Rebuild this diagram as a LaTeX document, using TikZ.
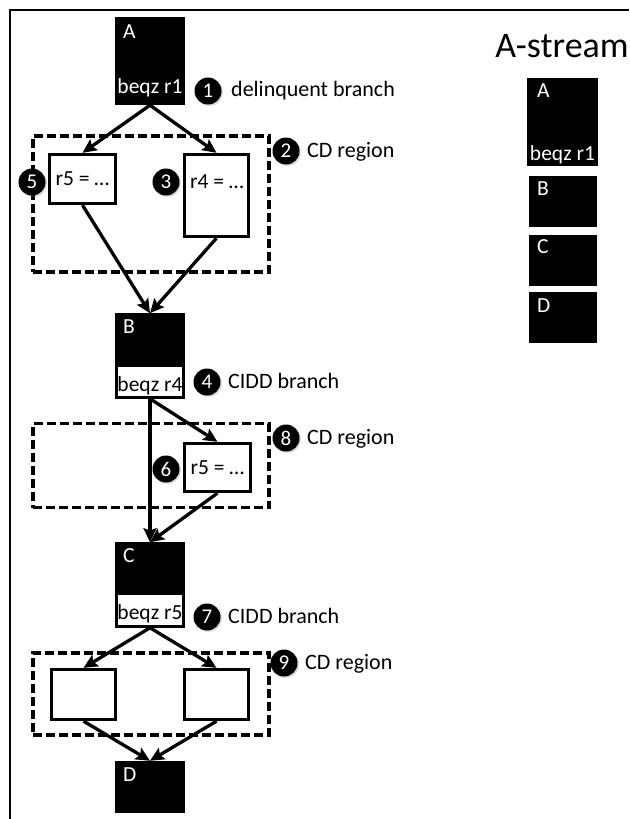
\documentclass[tikz,border=0pt]{standalone}
\usepackage{fontspec}
\setmainfont{Carlito}
\usetikzlibrary{arrows.meta,shadows}
\begin{document}
\begin{tikzpicture}[x=1pt,y=-1pt,
  txt/.style={font=\fontsize{21.5}{23}\selectfont, inner sep=0pt},
  lbl/.style={font=\fontsize{22}{24}\selectfont, inner sep=0pt, anchor=base west},
  blk/.style={rectangle, fill=black, draw=none, inner sep=0pt},
  wbox/.style={rectangle, draw=black, line width=3.3pt, fill=white, inner sep=0pt},
  split/.style={wbox, line width=2.6pt, path picture={\fill[black] (path picture bounding box.north west) rectangle ([yshift=-#1]path picture bounding box.north east);}},
  badge/.style={circle, fill=black, text=white, minimum size=27pt, inner sep=0pt,
    font=\fontsize{21}{23}\selectfont, circular drop shadow={shadow xshift=1pt, shadow yshift=-1pt, opacity=0.35, shadow scale=1.06}},
  region/.style={rectangle, draw=black, line width=3.3pt, dash pattern=on 9pt off 4pt, inner sep=0pt},
  arr/.style={line width=3.3pt, -{Stealth[length=14pt,width=13pt,inset=2.5pt]}},
  wt/.style={txt, text=white}
]
\useasboundingbox (0,0) rectangle (629,819);
% frame
\draw[line width=2.8pt] (629,10) -- (10,10) -- (10,819);

% regions (behind)
\node[region, minimum width=236pt, minimum height=136pt] (reg1) at (151,204) {};
\node[region, minimum width=236pt, minimum height=84pt] (reg2) at (151,465.5) {};
\node[region, minimum width=236pt, minimum height=82pt] (reg3) at (151,694) {};

% block A
\node[blk, minimum width=70pt, minimum height=88pt] (A) at (150,61) {};
\node[wt, anchor=base west] (Al) at (123,38) {A};
\node[wt, anchor=base] (Ab) at (150,93) {beqz r1};
\node[badge] (n1) at (208,91) {1};
\node[lbl] (t1) at (231,96) {delinquent branch};

% CD region 1
\node[wbox, minimum width=66pt, minimum height=49pt, txt] (r5) at (82.5,179) {r5 = …};
\node[wbox, minimum width=64pt, minimum height=82pt] (r4) at (216.5,195.5) {};
\node[txt, anchor=base] (r4t) at (217,188) {r4 = …};
\node[badge] (n5) at (32,182) {5};
\node[badge] (n3) at (166,182) {3};
\node[badge] (n2) at (286,151) {2};
\node[lbl] (t2) at (307,157) {CD region};

% block B
\node[split=52pt, minimum width=67pt, minimum height=83pt] (B) at (150,356) {};
\node[wt, anchor=base west] (Bl) at (123,333) {B};
\node[txt, anchor=base] (Bb) at (150,391) {beqz r4};
\node[badge] (n4) at (207,382) {4};
\node[lbl] (t4) at (228,388) {CIDD branch};

% CD region 2
\node[wbox, minimum width=66pt, minimum height=48pt, txt] (r5b) at (217.5,467.5) {r5 = …};
\node[badge] (n6) at (166,469) {6};
\node[badge] (n8) at (286,438) {8};
\node[lbl] (t8) at (307,444) {CD region};

% block C
\node[split=51pt, minimum width=67pt, minimum height=83pt] (C) at (150,585) {};
\node[wt, anchor=base west] (Cl) at (123,562) {C};
\node[txt, anchor=base] (Cb) at (150,619) {beqz r5};
\node[badge] (n7) at (207,617) {7};
\node[lbl] (t7) at (228,623) {CIDD branch};

% CD region 3
\node[wbox, minimum width=64pt, minimum height=50pt] (L) at (83.5,694.5) {};
\node[wbox, minimum width=64pt, minimum height=50pt] (R) at (216.5,694.5) {};
\node[badge] (n9) at (284,663) {9};
\node[lbl] (t9) at (305,669) {CD region};

% block D
\node[blk, minimum width=70pt, minimum height=52pt] (D) at (150,787) {};
\node[wt, anchor=base west] (Dl) at (123,781) {D};

% arrows
\draw[arr] (A.south) -- (r5.north);
\draw[arr] (A.south) -- (r4.north);
\draw[arr] (r5.south) -- (B.north);
\draw[arr] (r4.south) -- (B.north);
\draw[arr] (B.south) -- (C.north);
\draw[arr] (B.south) -- (r5b.north);
\draw[arr] (r5b.south) -- (C.north);
\draw[arr] (C.south) -- (L.north);
\draw[arr] (C.south) -- (R.north);
\draw[arr] (L.south) -- (D.north);
\draw[arr] (R.south) -- (D.north);

% A-stream
\node[inner sep=0pt, anchor=base, font=\fontsize{36}{39}\selectfont] (ast) at (562,57) {A-stream};
\node[blk, minimum width=71pt, minimum height=88pt] (sA) at (562.5,122) {};
\node[wt, anchor=base west] (sAl) at (537,97) {A};
\node[wt, anchor=base] (sAb) at (562.5,160) {beqz r1};
\node[blk, minimum width=68pt, minimum height=51pt] (sB) at (563,201.5) {};
\node[wt, anchor=base west] (sBl) at (537,195) {B};
\node[blk, minimum width=68pt, minimum height=51pt] (sC) at (563,260.5) {};
\node[wt, anchor=base west] (sCl) at (537,253) {C};
\node[blk, minimum width=68pt, minimum height=51pt] (sD) at (563,317.5) {};
\node[wt, anchor=base west] (sDl) at (537,312) {D};
\end{tikzpicture}
\end{document}
